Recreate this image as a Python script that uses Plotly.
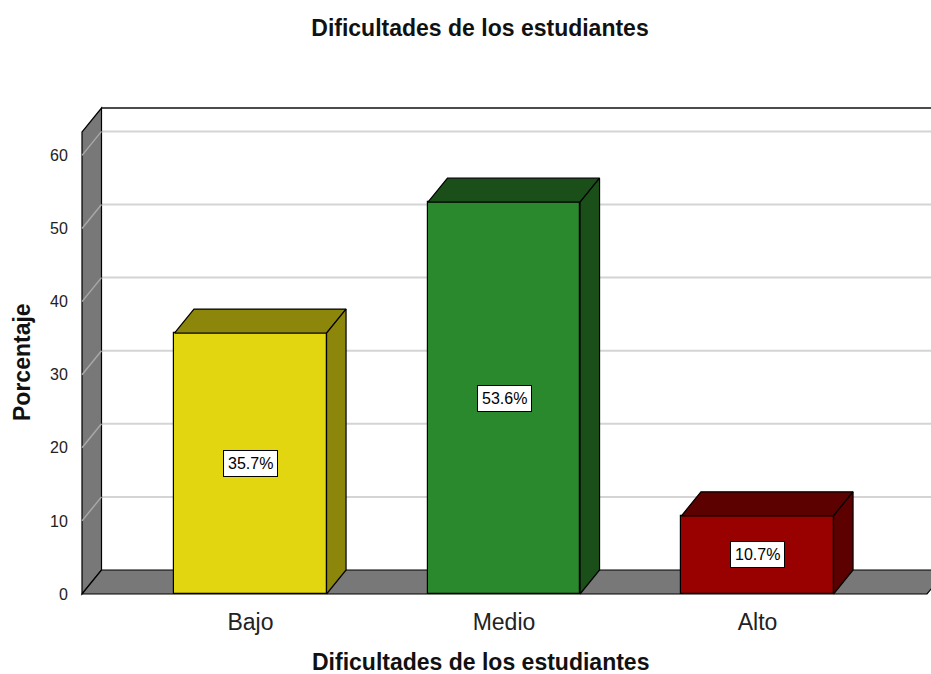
import plotly.graph_objects as go

# ---- data ----
categories = ["Bajo", "Medio", "Alto"]
percentages = [35.7, 53.6, 10.7]
y_ticks = [0, 10, 20, 30, 40, 50, 60]

front_colors = ["#e2d610", "#2a882d", "#990000"]
dark_colors = ["#8c860a", "#1b4f19", "#5c0000"]

# ---- layout constants (page pixel geometry of the 3D frame) ----
W, H = 931, 674
PL, PR, PT, PB = 80, 931, 104, 598           # plot area in px
X0PX, XPU = 250.5, 253.5                     # px of category 0, px per category
Y0PX, YPU = 594, 7.31                        # px of value 0, px per unit
xr = [(PL - X0PX) / XPU, (PR - X0PX) / XPU]
yr = [(Y0PX - PB) / YPU, (Y0PX - PT) / YPU]

DX = 19.5 / XPU          # depth offset in x units
DY = 24 / YPU            # depth offset in y units
BW = 0.6                 # bar width
XL = (82 - X0PX) / XPU   # front-left wall x
XRF = (927 - X0PX) / XPU # front-right floor x
XFAR = xr[1] + 0.2
WTOP = 63.2              # wall top (front coordinates)

FONT = "Liberation Sans, Arial, sans-serif"
WALL = "#787878"


def paper_x(px):
    return (px - PL) / (PR - PL)


def paper_y(py):
    return (PB - py) / (PB - PT)


xs = list(range(len(categories)))

fig = go.Figure()

# front faces
fig.add_trace(go.Bar(
    x=xs, y=percentages, width=BW,
    marker=dict(color=front_colors, line=dict(color="#000000", width=1.2)),
    hoverinfo="skip", showlegend=False,
))

# top and side faces
for x, v, dc in zip(xs, percentages, dark_colors):
    l, r = x - BW / 2, x + BW / 2
    fig.add_trace(go.Scatter(
        x=[l, l + DX, r + DX, r, l], y=[v, v + DY, v + DY, v, v],
        fill="toself", fillcolor=dc, mode="lines",
        line=dict(color="#000000", width=1.2), hoverinfo="skip", showlegend=False))
    fig.add_trace(go.Scatter(
        x=[r, r, r + DX, r + DX, r], y=[0, v, v + DY, DY, 0],
        fill="toself", fillcolor=dc, mode="lines",
        line=dict(color="#000000", width=1.2), hoverinfo="skip", showlegend=False))

shapes = []
# back wall gridlines
for t in y_ticks[1:]:
    shapes.append(dict(type="line", xref="x", yref="y", layer="below",
                       x0=XL + DX, x1=XFAR, y0=t + DY, y1=t + DY,
                       line=dict(color="#d4d4d4", width=2)))
# back wall top edge
shapes.append(dict(type="line", xref="x", yref="y", layer="below",
                   x0=XL + DX, x1=XFAR, y0=WTOP + DY, y1=WTOP + DY,
                   line=dict(color="#111111", width=1.5)))
# left wall
shapes.append(dict(type="path", xref="x", yref="y", layer="below",
                   path=f"M {XL},0 L {XL},{WTOP} L {XL+DX},{WTOP+DY} L {XL+DX},{DY} Z",
                   fillcolor=WALL, line=dict(color="#000000", width=1.2)))
# left wall grid diagonals
for t in y_ticks[1:]:
    shapes.append(dict(type="line", xref="x", yref="y", layer="below",
                       x0=XL, x1=XL + DX, y0=t, y1=t + DY,
                       line=dict(color="#a8a8a8", width=1.5)))
# floor
shapes.append(dict(type="path", xref="x", yref="y", layer="below",
                   path=f"M {XL},0 L {XRF},0 L {XRF+DX},{DY} L {XL+DX},{DY} Z",
                   fillcolor=WALL, line=dict(color="#000000", width=1.2)))

annotations = []
for x, v in zip(xs, percentages):
    annotations.append(dict(x=x, y=v / 2, xref="x", yref="y", text=f"{v}%",
                            showarrow=False, bgcolor="#ffffff", bordercolor="#000000",
                            borderwidth=1, borderpad=4,
                            font=dict(family=FONT, size=16, color="#000000")))
annotations.append(dict(x=paper_x(22), y=paper_y(362), xref="paper", yref="paper",
                        text="<b>Porcentaje</b>", textangle=-90, showarrow=False,
                        xanchor="center", yanchor="middle",
                        font=dict(family=FONT, size=23, color="#111111")))
annotations.append(dict(x=paper_x(480), y=paper_y(662), xref="paper", yref="paper",
                        text="<b>Dificultades de los estudiantes</b>", showarrow=False,
                        xanchor="center", yanchor="middle",
                        font=dict(family=FONT, size=23, color="#111111")))

fig.update_layout(
    width=W, height=H,
    margin=dict(l=PL, r=W - PR, t=PT, b=H - PB, pad=0),
    paper_bgcolor="#ffffff", plot_bgcolor="#ffffff",
    title=dict(text="<b>Dificultades de los estudiantes</b>", x=480 / W,
               xanchor="center", y=1 - 28 / H, yanchor="middle",
               font=dict(family=FONT, size=23, color="#111111")),
    shapes=shapes, annotations=annotations,
    bargap=0, showlegend=False,
    xaxis=dict(range=xr, tickvals=xs, ticktext=categories, showgrid=False,
               zeroline=False, showline=False, ticks="outside", ticklen=3,
               tickcolor="rgba(0,0,0,0)",
               tickfont=dict(family=FONT, size=23, color="#222222"), fixedrange=True),
    yaxis=dict(range=yr, tickvals=y_ticks, showgrid=False, zeroline=False, showline=False,
               ticks="outside", ticklen=8, tickcolor="rgba(0,0,0,0)",
               tickfont=dict(family=FONT, size=16, color="#222222"), fixedrange=True),
)

fig.write_html(
    "out.html",
    config={"displayModeBar": False},
    post_script="document.body.style.margin='0';document.body.style.overflow='hidden';",
)
